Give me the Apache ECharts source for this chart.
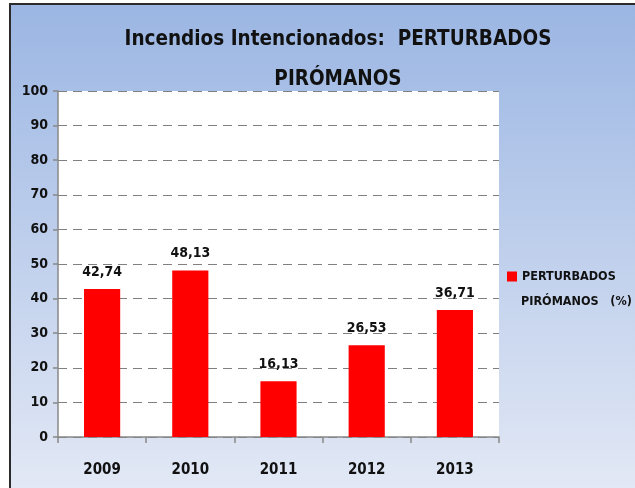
<!DOCTYPE html>
<html>
<head>
<meta charset="utf-8">
<script src="https://cdn.jsdelivr.net/npm/echarts@6/dist/echarts.min.js"></script>
<style>
  html, body { margin: 0; padding: 0; background: #fff; }
  #main { width: 635px; height: 488px; }
</style>
</head>
<body>
<div id="main"></div>
<script>
(function () {

    var years = ['2009', '2010', '2011', '2012', '2013'];
    var perturbados = [42.74, 48.13, 16.13, 26.53, 36.71];
    var yTicks = [0, 10, 20, 30, 40, 50, 60, 70, 80, 90, 100];
    var seriesName = 'PERTURBADOS\nPIRÓMANOS   (%)';
    var nameLines = seriesName.split('\n');

    var font = '"DejaVu Sans Condensed", "Liberation Sans Narrow", sans-serif';

    var myChart = echarts.init(document.getElementById('main'));
    myChart.setOption({
        animation: false,
        textStyle: { fontFamily: font },
        graphic: [
            {
                type: 'rect',
                z: -10,
                shape: { x: 10, y: 4, width: 625, height: 484 },
                style: {
                    fill: new echarts.graphic.LinearGradient(0, 0, 0, 1, [
                        { offset: 0, color: '#9bb6e3' },
                        { offset: 1, color: '#e2e8f5' }
                    ])
                }
            },
            {
                type: 'polyline',
                z: 10,
                shape: { points: [[10, 488], [10, 4], [635, 4]] },
                style: { stroke: '#2b2b2b', lineWidth: 2, fill: null }
            },
            {
                // second line of the legend entry
                type: 'text',
                left: 521,
                top: 295,
                style: {
                    text: nameLines[1],
                    fontFamily: font,
                    fontSize: 12.5,
                    fontWeight: 'bold',
                    fill: '#111'
                }
            }
        ],
        title: {
            text: 'Incendios Intencionados:  PERTURBADOS\nPIRÓMANOS',
            left: 333,
            textAlign: 'center',
            top: 15,
            textStyle: {
                fontFamily: font,
                fontSize: 20.5,
                fontWeight: 'bold',
                color: '#111',
                lineHeight: 40
            }
        },
        legend: {
            left: 502,
            top: 265,
            orient: 'vertical',
            itemWidth: 10,
            itemHeight: 10,
            itemGap: 8,
            icon: 'rect',
            data: [seriesName],
            formatter: function (name) { return name.split('\n')[0]; },
            textStyle: {
                fontFamily: font,
                fontSize: 12.5,
                fontWeight: 'bold',
                color: '#111'
            }
        },
        grid: {
            left: 58,
            top: 91,
            right: 136,
            bottom: 51,
            show: true,
            backgroundColor: '#ffffff',
            borderWidth: 0
        },
        xAxis: {
            type: 'category',
            data: years,
            axisLine: { lineStyle: { color: '#888', width: 1.5 } },
            axisTick: { show: true, length: 6, lineStyle: { color: '#888', width: 1.5 } },
            axisLabel: {
                margin: 26,
                fontFamily: font,
                fontSize: 15,
                fontWeight: 'bold',
                color: '#111'
            }
        },
        yAxis: {
            type: 'value',
            min: 0,
            max: 100,
            interval: 10,
            axisLine: { show: true, lineStyle: { color: '#888', width: 1.5 } },
            axisTick: { show: true, length: 5, lineStyle: { color: '#888', width: 1.5 } },
            axisLabel: {
                margin: 10,
                fontFamily: font,
                fontSize: 14,
                fontWeight: 'bold',
                color: '#111',
                formatter: function (v) { return yTicks.indexOf(v) >= 0 ? String(v) : ''; }
            },
            splitLine: {
                show: true,
                lineStyle: { color: '#808080', type: [9, 6], width: 1 }
            }
        },
        series: [
            {
                name: seriesName,
                type: 'bar',
                data: perturbados,
                barWidth: '41%',
                itemStyle: { color: '#ff0000' },
                label: {
                    show: true,
                    position: 'top',
                    distance: 10,
                    fontFamily: font,
                    fontSize: 14,
                    fontWeight: 'bold',
                    color: '#111',
                    formatter: function (p) { return p.value.toFixed(2).replace('.', ','); }
                }
            }
        ]
    });

})();
</script>
</body>
</html>
